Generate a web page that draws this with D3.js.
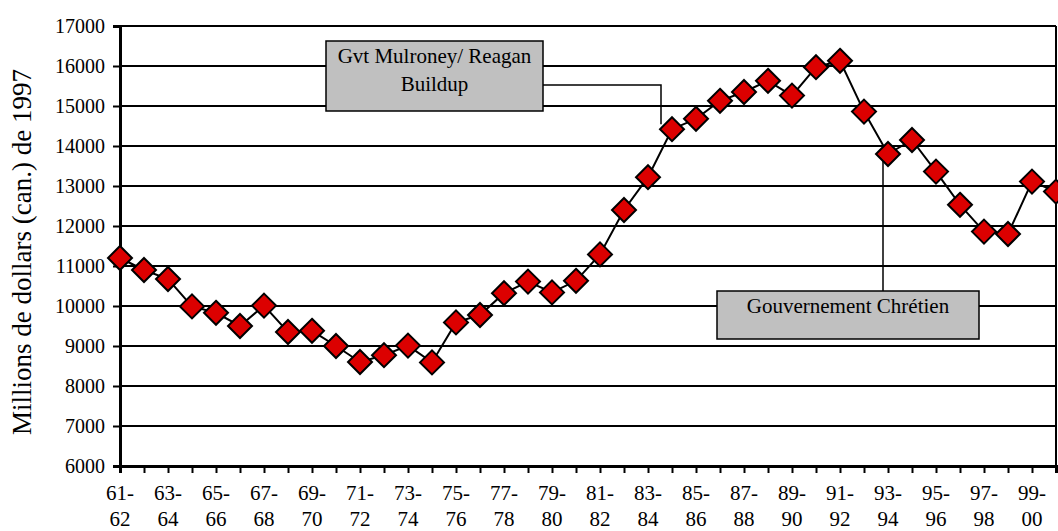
<!DOCTYPE html>
<html>
<head>
<meta charset="utf-8">
<script src="https://cdn.jsdelivr.net/npm/d3@7"></script>
<style>
  html, body { margin: 0; padding: 0; background: #fff; }
  svg { display: block; }
</style>
</head>
<body>
<svg id="chart" width="1058" height="531"></svg>
<script>
// Fiscal years, 1961-62 through 2000-01
const categories = [
  "61-62","62-63","63-64","64-65","65-66","66-67","67-68","68-69","69-70","70-71",
  "71-72","72-73","73-74","74-75","75-76","76-77","77-78","78-79","79-80","80-81",
  "81-82","82-83","83-84","84-85","85-86","86-87","87-88","88-89","89-90","90-91",
  "91-92","92-93","93-94","94-95","95-96","96-97","97-98","98-99","99-00","00-01"
];

// Spending, millions of 1997 Canadian dollars
const spending = [
  11200, 10900, 10675, 9990, 9830, 9500, 10010, 9350, 9380, 9000,
  8600, 8770, 9010, 8590, 9590, 9775, 10320, 10610, 10340, 10630,
  11290, 12400, 13220, 14420, 14680, 15130, 15350, 15630, 15260, 15970,
  16130, 14860, 13800, 14150, 13360, 12530, 11860, 11800, 13110, 12860
];

// Only every other fiscal year is labelled on the axis
const xTickLabels = categories.filter((d, i) => i % 2 === 0);
const yTicks = [6000, 7000, 8000, 9000, 10000, 11000, 12000, 13000, 14000, 15000, 16000, 17000];

const yTitle = "Millions de dollars (can.) de 1997";

// Callout boxes: text lines and the year each one points at
const callouts = [
  { lines: ["Gvt Mulroney/ Reagan", "Buildup"], target: "84-85" },
  { lines: ["Gouvernement Chrétien", ""], target: "93-94" }
];

(function draw() {
  const svg = d3.select("#chart");
  const m = { left: 120, right: 1056, top: 26, bottom: 466 };
  const serif = "Liberation Serif, Times New Roman, serif";

  const x = d3.scalePoint().domain(categories).range([m.left, m.right]);
  const y = d3.scaleLinear().domain([6000, 17000]).range([m.bottom, m.top]);

  // Horizontal gridlines
  svg.append("g")
    .selectAll("line")
    .data(yTicks.slice(1))
    .join("line")
    .attr("x1", m.left).attr("x2", m.right)
    .attr("y1", d => y(d)).attr("y2", d => y(d))
    .attr("stroke", "#000").attr("stroke-width", 2);

  // Right frame edge
  svg.append("line")
    .attr("x1", m.right).attr("x2", m.right)
    .attr("y1", m.top).attr("y2", m.bottom)
    .attr("stroke", "#000").attr("stroke-width", 2);

  // Y axis
  const yAxis = svg.append("g")
    .attr("transform", `translate(${m.left},0)`)
    .call(d3.axisLeft(y).tickValues(yTicks).tickFormat(d3.format("d")).tickSize(7).tickPadding(8));
  yAxis.attr("font-family", serif).attr("font-size", 20);
  yAxis.select(".domain").attr("stroke", "#000").attr("stroke-width", 3);
  yAxis.selectAll(".tick line").attr("stroke", "#000").attr("stroke-width", 2);
  yAxis.selectAll(".tick text").attr("fill", "#000");

  // X axis
  const xAxis = svg.append("g")
    .attr("transform", `translate(0,${m.bottom})`)
    .call(d3.axisBottom(x).tickSize(7).tickFormat(() => ""));
  xAxis.select(".domain").attr("stroke", "#000").attr("stroke-width", 3);
  xAxis.selectAll(".tick line").attr("stroke", "#000").attr("stroke-width", 2);

  // Two-line fiscal year labels
  const xl = svg.append("g").attr("class", "x-labels")
    .attr("font-family", serif).attr("font-size", 21)
    .selectAll("text")
    .data(xTickLabels)
    .join("text")
    .attr("x", d => x(d))
    .attr("y", m.bottom + 34)
    .attr("text-anchor", "middle")
    .attr("fill", "#000");
  xl.append("tspan").attr("x", d => x(d)).text(d => d.split("-")[0] + "-");
  xl.append("tspan").attr("x", d => x(d)).attr("dy", 26).text(d => d.split("-")[1]);

  // Y axis title
  svg.append("text")
    .attr("transform", `translate(31,${(m.top + m.bottom) / 2 + 6}) rotate(-90)`)
    .attr("text-anchor", "middle")
    .attr("font-family", serif).attr("font-size", 27)
    .attr("fill", "#000")
    .text(yTitle);

  // Series line
  const series = categories.map((c, i) => ({ c, v: spending[i] }));
  svg.append("path")
    .datum(series)
    .attr("fill", "none")
    .attr("stroke", "#000")
    .attr("stroke-width", 2)
    .attr("d", d3.line().x(d => x(d.c)).y(d => y(d.v)));

  // Callout connectors (drawn under the markers)
  const byCat = new Map(series.map(d => [d.c, d.v]));
  const box1 = { x: 326, y: 41, w: 217, h: 70 };
  const box2 = { x: 717, y: 291, w: 262, h: 48 };

  const t1 = callouts[0].target;
  svg.append("path")
    .attr("fill", "none").attr("stroke", "#000").attr("stroke-width", 1.5)
    .attr("d", `M${box1.x + box1.w},85 H${x(t1) - 11} V${y(byCat.get(t1)) - 5}`);

  const t2 = callouts[1].target;
  svg.append("path")
    .attr("fill", "none").attr("stroke", "#000").attr("stroke-width", 1.5)
    .attr("d", `M${x(t2) - 5},${box2.y} V${y(byCat.get(t2)) + 2}`);

  // Diamond markers
  const r = 12;
  svg.append("g")
    .selectAll("path")
    .data(series)
    .join("path")
    .attr("transform", d => `translate(${x(d.c)},${y(d.v)})`)
    .attr("d", `M0,${-r} L${r},0 L0,${r} L${-r},0 Z`)
    .attr("fill", "#dc0000")
    .attr("stroke", "#000")
    .attr("stroke-width", 2);

  // Callout boxes
  [[box1, callouts[0]], [box2, callouts[1]]].forEach(([b, c]) => {
    const g = svg.append("g").attr("font-family", serif).attr("font-size", 21);
    g.append("rect")
      .attr("x", b.x).attr("y", b.y).attr("width", b.w).attr("height", b.h)
      .attr("fill", "#c0c0c0").attr("stroke", "#000").attr("stroke-width", 1.5);
    c.lines.forEach((t, i) => {
      g.append("text")
        .attr("x", b.x + b.w / 2)
        .attr("y", b.y + 22 + i * 28)
        .attr("text-anchor", "middle")
        .attr("fill", "#000")
        .text(t);
    });
  });
})();
</script>
</body>
</html>
